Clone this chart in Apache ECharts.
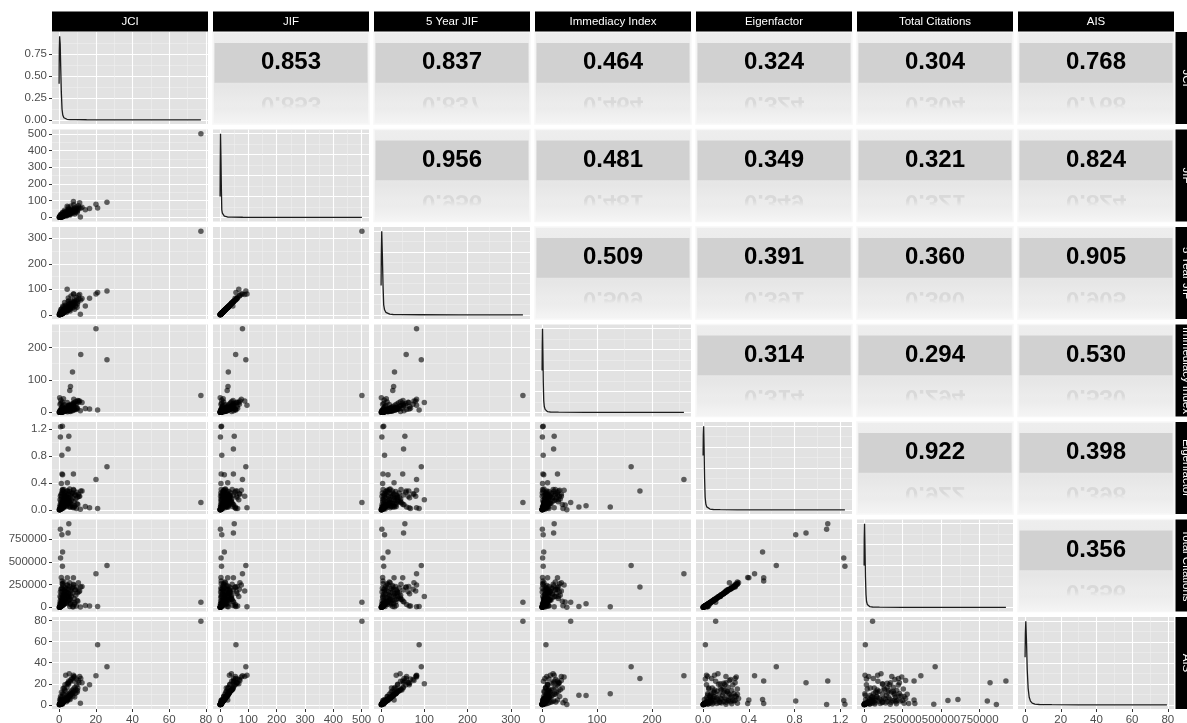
<!DOCTYPE html>
<html>
<head>
<meta charset="utf-8">
<script src="https://cdn.jsdelivr.net/npm/echarts@6/dist/echarts.min.js"></script>
<style>
  html, body { margin: 0; padding: 0; background: #fff; }
  #chart { width: 1187px; height: 723px; }
</style>
</head>
<body>
<div id="chart"></div>
<script>
const varNames = ['JCI', 'JIF', '5 Year JIF', 'Immediacy Index', 'Eigenfactor', 'Total Citations', 'AIS'];

// one entry per journal: the visible outliers first, then the bulk near the origin
const jci = [77.3, 20.1, 26.1, 11.8, 11.2, 21.0, 5.3, 0.7, 4.9, 1.5, 1.9, 0.8, 1.8, 7.8, 4.5, 7.3, 6.2, 5.8, 4.4, 7.8, 11.6, 14.3, 16.6,
  0.2, 0.4, 0.5, 0.6, 0.8, 0.9, 1.0, 1.1, 1.2, 1.3, 1.5, 1.6, 1.8, 2.0, 2.1, 2.3, 2.5, 2.7, 2.9, 3.1,
  3.3, 3.5, 3.8, 4.0, 4.2, 4.5, 4.8, 5.0, 5.3, 5.6, 6.0, 6.3, 6.7, 7.0, 7.4, 7.8, 8.2, 8.6, 9.1, 9.6,
  10.2, 10.8, 3.0, 2.0, 5.0, 6.5, 8.0, 1.0, 4.0, 6.0, 8.5, 9.8, 0.3, 0.9, 2.4, 1.4, 0.7, 1.9, 1.2, 1.6,
  3.6, 5.5, 2.8, 12.5, 10.5, 0.5, 0.8, 1.1, 1.5, 2.2,
  0.3, 0.6, 0.9, 1.2, 1.5, 1.8, 2.1, 0.5, 1.0, 1.7, 2.6, 3.4, 4.3, 5.2, 6.1, 7.1, 8.3, 9.4, 0.4, 0.8,
  1.3, 2.2, 3.2, 4.6, 5.8, 7.5, 9.0, 10.0, 0.2, 0.1, 0.35, 0.7, 1.0, 1.4, 2.0, 2.6, 3.2, 3.9, 4.7, 5.6];
const jif = [501, 79, 91, 55, 87, 56, 50, 1.2, 47, 6, 15, 3.5, 5.0, 47, 27, 29, 28, 25, 66, 95, 2.5, 45, 53,
  0.8, 1.5, 2.1, 2.8, 3.5, 4.2, 5.0, 3.0, 6.1, 4.6, 7.4, 5.8, 8.9, 10.2, 6.7, 12.0, 9.5, 14.1, 11.3, 16.2,
  13.0, 18.4, 15.5, 21.0, 17.8, 24.2, 20.5, 27.3, 23.0, 30.8, 26.1, 34.5, 29.4, 38.2, 33.0, 42.6, 37.1, 46.9, 41.0, 52.3,
  45.8, 58.0, 42.0, 30.0, 60.0, 68.0, 75.0, 18.0, 8.0, 14.0, 20.0, 28.0, 0.5, 6.0, 11.0, 2.5, 1.8, 4.0, 3.0, 3.8,
  33.0, 40.0, 22.0, 60.0, 70.0, 1.0, 2.0, 3.2, 4.4, 5.2,
  1.2, 2.0, 3.5, 4.8, 6.5, 8.0, 9.8, 3.0, 5.5, 12.5, 17.0, 23.0, 29.0, 35.0, 41.0, 48.0, 54.0, 62.0, 8.0, 13.0,
  20.0, 27.0, 34.0, 14.0, 19.0, 25.0, 32.0, 38.0, 0.3, 0.6, 1.0, 1.4, 2.4, 3.6, 6.0, 8.4, 10.5, 12.8, 15.5, 18.8];
const jif5 = [328, 82, 93, 58, 80, 88, 55, 1.8, 52, 8, 16, 4.2, 6.0, 50, 30, 31, 29, 27, 100, 82, 2.2, 35, 65,
  1.0, 1.8, 2.5, 3.2, 4.0, 4.9, 5.6, 3.4, 6.8, 5.4, 8.2, 6.3, 9.7, 11.5, 7.5, 13.1, 10.8, 15.6, 12.2, 17.9,
  14.5, 20.1, 17.2, 23.3, 19.9, 26.4, 22.8, 29.5, 25.6, 33.9, 28.4, 37.2, 32.8, 41.5, 36.6, 46.0, 40.8, 51.2, 45.3, 57.0,
  50.6, 62.5, 48.0, 34.0, 66.0, 74.0, 82.0, 21.0, 9.0, 15.0, 22.0, 30.0, 0.6, 7.0, 12.0, 3.0, 2.2, 4.5, 3.5, 4.2,
  35.0, 44.0, 24.0, 64.0, 76.0, 1.3, 2.6, 3.8, 5.1, 6.0,
  1.5, 2.4, 4.1, 5.5, 7.3, 9.0, 10.9, 3.6, 6.4, 14.0, 19.0, 25.5, 32.0, 38.5, 45.0, 53.0, 59.0, 68.0, 9.5, 15.0,
  23.0, 30.0, 38.0, 16.0, 21.0, 27.5, 35.0, 42.0, 0.4, 0.7, 1.2, 1.7, 2.9, 4.3, 7.0, 9.6, 12.0, 14.5, 17.5, 21.0];
const immediacy = [52, 258, 162, 178, 35, 7, 22, 0.5, 21, 2, 3, 1, 2, 28, 10, 124, 80, 67, 30, 22, 5, 12, 10,
  0.2, 0.3, 0.5, 0.6, 0.8, 1.0, 1.3, 0.7, 1.6, 2.2, 2.0, 3.1, 2.5, 3.4, 1.2, 4.0, 5.5, 3.8, 6.8, 4.6,
  8.2, 5.9, 9.6, 7.1, 11.5, 8.8, 13.9, 10.3, 16.4, 12.2, 19.0, 14.6, 22.5, 17.3, 26.0, 20.2, 29.4, 23.7, 33.0, 27.5,
  36.8, 31.2, 12.0, 9.0, 18.0, 25.0, 40.0, 4.0, 3.0, 6.0, 9.0, 14.0, 45.0, 38.0, 42.0, 0.4, 0.3, 1.0, 0.8, 1.5,
  15.0, 20.0, 6.0, 30.0, 35.0, 0.2, 0.6, 0.9, 1.1, 1.8,
  3.0, 6.0, 9.0, 12.0, 15.0, 18.0, 21.0, 25.0, 28.0, 32.0, 24.0, 3.5, 6.5, 9.5, 2.5, 5.0, 8.5, 12.5, 1.5, 2.8,
  4.2, 7.5, 10.5, 1.8, 3.3, 5.8, 8.0, 11.0, 0.1, 0.4, 0.9, 1.4, 2.6, 3.6, 5.0, 6.2, 7.8, 9.4, 11.2, 13.5];
const eigenfactor = [0.11, 0.45, 0.64, 0.28, 0.20, 0.02, 1.09, 1.08, 0.90, 0.81, 0.52, 1.23, 1.24, 0.53, 0.40, 0.04, 0.06, 0.04, 0.15, 0.03, 0.01, 0.05, 0.03,
  0.001, 0.003, 0.006, 0.010, 0.015, 0.020, 0.028, 0.045, 0.035, 0.060, 0.050, 0.090, 0.075, 0.110, 0.140, 0.085, 0.180, 0.130, 0.220, 0.160,
  0.260, 0.120, 0.200, 0.240, 0.150, 0.280, 0.190, 0.230, 0.095, 0.270, 0.170, 0.210, 0.140, 0.250, 0.180, 0.300, 0.120, 0.220, 0.160, 0.260,
  0.080, 0.200, 0.100, 0.070, 0.180, 0.240, 0.290, 0.030, 0.050, 0.040, 0.060, 0.090, 0.002, 0.020, 0.070, 0.250, 0.200, 0.300, 0.390, 0.530,
  0.100, 0.130, 0.050, 0.280, 0.230, 0.004, 0.008, 0.012, 0.018, 0.025,
  0.040, 0.080, 0.120, 0.160, 0.200, 0.240, 0.270, 0.150, 0.225, 0.290, 0.300, 0.210, 0.175, 0.135, 0.110, 0.075, 0.040, 0.020, 0.012, 0.065,
  0.100, 0.150, 0.190, 0.280, 0.310, 0.250, 0.220, 0.185, 0.0005, 0.002, 0.005, 0.009, 0.014, 0.022, 0.032, 0.042, 0.055, 0.068, 0.085, 0.105];
const totalCites = [55000, 369000, 462000, 223000, 180000, 8000, 922000, 860000, 819000, 801000, 610000, 545000, 453000, 325000, 325000, 5000, 40000, 8000, 120000, 6000, 3000, 20000, 15000,
  800, 2500, 5000, 9000, 14000, 20000, 26000, 38000, 30000, 52000, 41000, 70000, 62000, 95000, 118000, 75000, 150000, 110000, 185000, 138000,
  215000, 100000, 168000, 205000, 128000, 240000, 160000, 196000, 82000, 230000, 145000, 178000, 120000, 212000, 155000, 255000, 98000, 190000, 132000, 222000,
  66000, 172000, 85000, 60000, 150000, 200000, 245000, 25000, 45000, 35000, 50000, 75000, 1500, 18000, 58000, 210000, 170000, 260000, 330000, 290000,
  88000, 110000, 40000, 230000, 270000, 3500, 7000, 11000, 16000, 22000,
  35000, 70000, 105000, 140000, 175000, 205000, 235000, 120000, 200000, 260000, 280000, 190000, 150000, 120000, 90000, 60000, 30000, 15000, 10000, 55000,
  85000, 130000, 165000, 250000, 270000, 225000, 195000, 160000, 400, 1200, 3000, 6000, 10000, 17000, 24000, 33000, 42000, 55000, 68000, 84000];
const ais = [79.5, 27.7, 36.3, 25.0, 27.0, 57.0, 22.7, 0.3, 21.0, 3.6, 5.0, 4.0, 0.5, 22.7, 4.5, 10.6, 8.8, 9.0, 20.0, 28.0, 1.5, 15.0, 19.0,
  0.3, 0.5, 0.7, 0.9, 1.2, 1.4, 1.7, 1.0, 2.0, 1.5, 2.5, 1.9, 3.0, 3.5, 2.2, 4.1, 3.2, 4.8, 3.9, 5.5,
  4.4, 6.3, 5.2, 7.2, 6.1, 8.4, 7.0, 9.6, 7.9, 10.8, 9.0, 12.1, 10.2, 13.5, 11.6, 15.0, 13.0, 16.8, 14.4, 18.9,
  16.0, 21.0, 14.0, 10.5, 20.5, 24.0, 26.5, 6.5, 2.8, 5.0, 7.5, 12.0, 0.2, 2.0, 4.0, 1.0, 0.6, 1.5, 1.2, 1.3,
  28.0, 29.5, 16.0, 21.0, 23.0, 0.4, 0.8, 1.1, 1.6, 2.1,
  0.5, 0.8, 1.3, 1.8, 2.4, 3.0, 3.6, 2.6, 4.5, 7.8, 10.0, 13.0, 16.5, 19.5, 22.5, 25.0, 27.0, 24.5, 5.0, 8.0,
  12.0, 15.5, 19.0, 4.0, 6.0, 8.5, 11.0, 13.5, 0.1, 0.2, 0.35, 0.6, 0.9, 1.3, 2.2, 3.1, 4.0, 5.0, 6.2, 7.5];

// diagonal density curves (JCI in density units, the others relative to their peak)
const densX = [
  [0, 0.1, 0.3, 0.6, 0.9, 1.2, 1.6, 2.0, 2.6, 3.3, 4.3, 6, 9, 15, 30, 50, 77.3],
  [0, 0.5, 1.5, 3, 4.5, 6, 8, 11, 15, 20, 26, 40, 80, 150, 300, 501],
  [0, 0.5, 1.5, 3, 4.5, 6, 8, 11, 15, 20, 28, 45, 90, 180, 328],
  [0, 0.3, 0.8, 1.5, 2.2, 3, 4, 5.5, 7.5, 10, 15, 30, 80, 160, 258],
  [0, 0.002, 0.005, 0.009, 0.013, 0.018, 0.024, 0.032, 0.045, 0.06, 0.09, 0.15, 0.3, 0.6, 1.24],
  [0, 1000, 3000, 6000, 9000, 12500, 16000, 21000, 28000, 38000, 55000, 100000, 250000, 500000, 922000],
  [0, 0.15, 0.4, 0.8, 1.2, 1.7, 2.3, 3.0, 4.0, 5.5, 8, 15, 30, 55, 79.5]
];
const densY = [
  [0.41, 0.78, 0.95, 0.86, 0.58, 0.32, 0.12, 0.055, 0.024, 0.012, 0.006, 0.003, 0.0015, 0.0007, 0.0002, 0.0001, 0.0001],
  [0.25, 0.62, 1.0, 0.72, 0.35, 0.09, 0.05, 0.03, 0.015, 0.008, 0.004, 0.002, 0.001, 0.0005, 0.0002, 0.0001],
  [0.35, 0.7, 1.0, 0.7, 0.35, 0.12, 0.06, 0.03, 0.016, 0.008, 0.004, 0.002, 0.0008, 0.0003, 0.0001],
  [0.5, 0.8, 1.0, 0.7, 0.35, 0.14, 0.07, 0.035, 0.017, 0.008, 0.004, 0.0015, 0.0005, 0.0002, 0.0001],
  [0.65, 0.9, 1.0, 0.72, 0.38, 0.15, 0.07, 0.035, 0.017, 0.009, 0.004, 0.0015, 0.0005, 0.0002, 0.0001],
  [0.5, 0.82, 1.0, 0.7, 0.36, 0.15, 0.07, 0.035, 0.017, 0.008, 0.004, 0.0015, 0.0005, 0.0002, 0.0001],
  [0.57, 0.85, 1.0, 0.75, 0.42, 0.2, 0.09, 0.045, 0.02, 0.009, 0.004, 0.0015, 0.0005, 0.0002, 0.0001]
];

// correlations, upper triangle row by row
const corrText = [
  ['0.853', '0.837', '0.464', '0.324', '0.304', '0.768'],
  ['0.956', '0.481', '0.349', '0.321', '0.824'],
  ['0.509', '0.391', '0.360', '0.905'],
  ['0.314', '0.294', '0.530'],
  ['0.922', '0.398'],
  ['0.356']
];

// axis ranges and breaks
const axisLo = [-3.87, -25.05, -16.4, -12.9, -0.062, -46100, -3.975];
const axisHi = [81.17, 526.05, 344.4, 270.9, 1.302, 968100, 83.475];
const majorBreaks = [[0, 20, 40, 60, 80], [0, 100, 200, 300, 400, 500], [0, 100, 200, 300], [0, 100, 200],
  [0, 0.4, 0.8, 1.2], [0, 250000, 500000, 750000], [0, 20, 40, 60, 80]];
const minorBreaks = [[10, 30, 50, 70], [50, 150, 250, 350, 450], [50, 150, 250], [50, 150, 250],
  [0.2, 0.6, 1.0], [125000, 375000, 625000, 875000], [10, 30, 50, 70]];
const densMajor = [0, 0.25, 0.5, 0.75, 1.0];
const densMinor = [0.125, 0.375, 0.625, 0.875];

const vars = [jci, jif, jif5, immediacy, eigenfactor, totalCites, ais];
const fmt = [String, String, String, String, v => v.toFixed(1), String, String];

// layout
const padL = 52, panelW = 156, gapX = 5;
const padT = 32, panelH = 92, gapY = 5.5;
const colX = c => padL + c * (panelW + gapX);
const rowY = r => padT + r * (panelH + gapY);
const FONT = '"Liberation Sans", Arial, sans-serif';

const grids = [], xAxes = [], yAxes = [], series = [], graphics = [];

function axisPair(g, lo, hi, majors, minors, showLab, formatter) {
  return [{
    type: 'value', gridIndex: g, min: lo, max: hi,
    axisLine: { show: false, onZero: false },
    axisTick: { show: showLab, length: 3, lineStyle: { color: '#333', width: 1 }, customValues: majors },
    axisLabel: { show: showLab, customValues: majors, margin: 5, color: '#4d4d4d', fontSize: 11.5, fontFamily: FONT, formatter: formatter },
    splitLine: { show: true, lineStyle: { color: '#ffffff', width: 1.1 } }
  }, {
    type: 'value', gridIndex: g, min: lo, max: hi,
    axisLine: { show: false, onZero: false },
    axisTick: { show: false, customValues: minors },
    axisLabel: { show: false },
    splitLine: { show: true, lineStyle: { color: '#f0f0f0', width: 0.6 } }
  }];
}

for (let r = 0; r < 7; r++) {
  for (let c = 0; c < 7; c++) {
    const g = r * 7 + c;
    const upper = c > r;
    grids.push({
      left: colX(c), top: rowY(r), width: panelW, height: panelH,
      containLabel: false, outerBoundsMode: 'none',
      show: true,
      backgroundColor: upper
        ? new echarts.graphic.LinearGradient(0, 0, 0, 1, [
            { offset: 0, color: '#eeeeee' }, { offset: 0.5, color: '#e7e7e7' },
            { offset: 0.6, color: '#e6e6e6' }, { offset: 1, color: '#f4f4f4' }])
        : '#e2e2e2',
      borderWidth: upper ? 1.5 : 0,
      borderColor: '#f7f7f7'
    });

    if (upper) {
      const hidden = { type: 'value', gridIndex: g, min: 0, max: 1, show: false };
      xAxes.push(hidden, Object.assign({}, hidden));
      yAxes.push(Object.assign({}, hidden), Object.assign({}, hidden));
      const txt = corrText[r][c - r - 1];
      // grey band behind the value
      series.push({
        type: 'scatter', xAxisIndex: 2 * g, yAxisIndex: 2 * g, silent: true,
        symbolSize: 0, data: [[0.5, 0.67]],
        markArea: { silent: true, itemStyle: { color: '#d1d1d1', opacity: 1 }, data: [[{ xAxis: 0.01, yAxis: 0.448 }, { xAxis: 0.99, yAxis: 0.88 }]] }
      });
      const cx = colX(c) + panelW / 2;
      graphics.push({
        type: 'text', x: cx, y: rowY(r) + 30.5, z: 55, silent: true,
        style: { text: txt, x: 0, y: 0, align: 'center', verticalAlign: 'middle', textAlign: 'center', textVerticalAlign: 'middle',
          font: 'bold 24px ' + FONT, fill: '#000000' }
      });
      // faded mirror of the value under the band
      graphics.push({
        type: 'text', x: cx, y: rowY(r) + 72, scaleY: -1, z: 50, silent: true,
        style: { text: txt, x: 0, y: 0, align: 'center', verticalAlign: 'middle', textAlign: 'center', textVerticalAlign: 'middle',
          font: 'bold 24px ' + FONT, fill: '#d9d9d9' }
      });
      graphics.push({
        type: 'rect', z: 51, silent: true,
        shape: { x: colX(c) + 1.5, y: rowY(r) + 71, width: panelW - 3, height: panelH - 72.5 },
        style: { fill: new echarts.graphic.LinearGradient(0, 0, 0, 1, [
          { offset: 0, color: 'rgba(234,234,234,0)' }, { offset: 0.3, color: 'rgba(236,236,236,1)' },
          { offset: 1, color: '#f4f4f4' }]) }
      });
      continue;
    }

    const [xa, xm] = axisPair(g, axisLo[c], axisHi[c], majorBreaks[c], minorBreaks[c], r === 6, fmt[c]);
    xAxes.push(xa, xm);

    if (r === c) {
      const lo = r === 0 ? -0.0475 : -0.05, hi = r === 0 ? 0.9975 : 1.05;
      const majors = r === 0 ? densMajor.slice(0, 4) : densMajor;
      const [ya, ym] = axisPair(g, lo, hi, majors, densMinor, c === 0, v => v.toFixed(2));
      yAxes.push(ya, ym);
      series.push({
        type: 'line', xAxisIndex: 2 * g, yAxisIndex: 2 * g, silent: true,
        showSymbol: false, symbol: 'none',
        lineStyle: { color: '#1c1c1c', width: 1.3 },
        data: densX[r].map((x, i) => [x, densY[r][i]])
      });
    } else {
      const [ya, ym] = axisPair(g, axisLo[r], axisHi[r], majorBreaks[r], minorBreaks[r], c === 0, fmt[r]);
      yAxes.push(ya, ym);
      series.push({
        type: 'scatter', xAxisIndex: 2 * g, yAxisIndex: 2 * g, silent: true,
        symbolSize: 5.5, itemStyle: { color: 'rgba(0,0,0,0.75)' },
        data: vars[c].map((v, i) => [v, vars[r][i]])
      });
    }
  }
}

// facet strips: top and right
varNames.forEach((name, i) => {
  graphics.push({ type: 'rect', z: 60, silent: true, shape: { x: colX(i), y: 11.5, width: panelW, height: 20 }, style: { fill: '#000' } });
  graphics.push({ type: 'text', z: 61, silent: true, x: colX(i) + panelW / 2, y: 21.5,
    style: { text: name, x: 0, y: 0, align: 'center', verticalAlign: 'middle', textAlign: 'center', textVerticalAlign: 'middle',
      font: '11.5px ' + FONT, fill: '#fff' } });
  graphics.push({ type: 'rect', z: 60, silent: true, shape: { x: 1175.5, y: rowY(i), width: 22, height: panelH }, style: { fill: '#000' } });
  graphics.push({ type: 'text', z: 61, silent: true, x: 1186, y: rowY(i) + panelH / 2, rotation: -Math.PI / 2,
    style: { text: name, x: 0, y: 0, align: 'center', verticalAlign: 'middle', textAlign: 'center', textVerticalAlign: 'middle',
      font: '11.5px ' + FONT, fill: '#fff' } });
});

const chart = echarts.init(document.getElementById('chart'));
chart.setOption({
  animation: false,
  backgroundColor: '#ffffff',
  grid: grids,
  xAxis: xAxes,
  yAxis: yAxes,
  series: series,
  graphic: { elements: graphics }
});
</script>
</body>
</html>
